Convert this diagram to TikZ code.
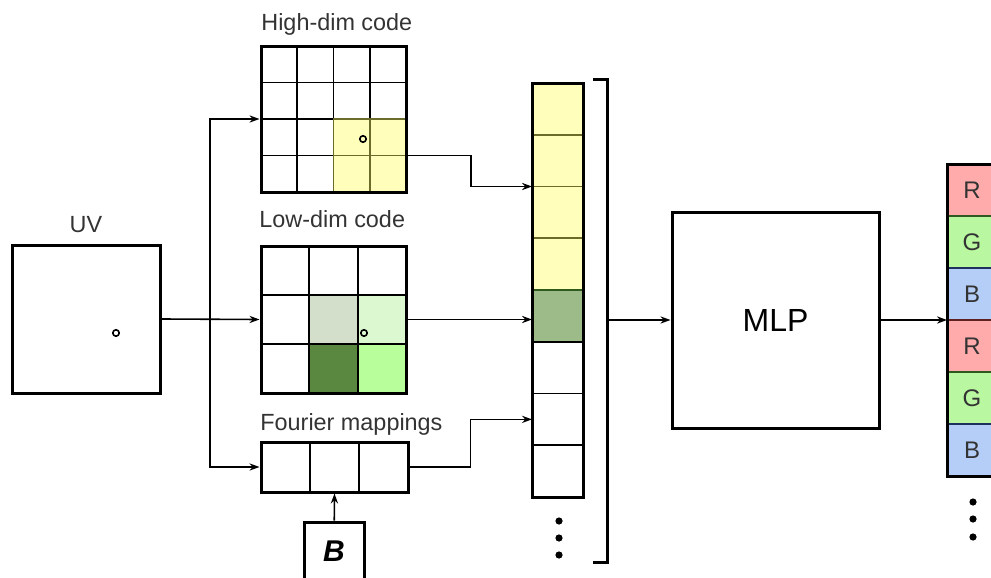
\documentclass[tikz,border=0pt]{standalone}
\usepackage{fontspec}
\setmainfont{Liberation Sans}
\usetikzlibrary{arrows.meta,positioning}

\definecolor{codeyellow}{HTML}{FFFFBB}
\definecolor{yellowedge}{HTML}{6B6B2A}
\definecolor{ldgray}{HTML}{D3DECB}
\definecolor{ldpale}{HTML}{DCF8D0}
\definecolor{lddark}{HTML}{5A8841}
\definecolor{ldlight}{HTML}{B8FF9C}
\definecolor{colgreen}{HTML}{9CBB89}
\definecolor{rfill}{HTML}{FFABAB}
\definecolor{gfill}{HTML}{B9F7A1}
\definecolor{bfill}{HTML}{B5CEF7}
\definecolor{redge}{HTML}{5E2020}
\definecolor{gedge}{HTML}{2F5A1F}
\definecolor{bedge}{HTML}{1F2F5E}

\tikzset{
  >={Stealth[length=5pt,width=3.6pt]},
  box/.style={draw, line width=1.5pt, inner sep=0pt},
  cell/.style={draw, line width=0.9pt, inner sep=0pt, outer sep=0pt},
  lbltext/.style={inner sep=0pt, text=black!80, font=\fontsize{11.7}{14}\selectfont},
  conn/.style={line width=0.8pt}
}

\begin{document}
\begin{tikzpicture}[x=0.5pt, y=-0.5pt]
  \useasboundingbox (0,0) rectangle (991,578);
  % input UV
  \node[box, minimum size=74pt] (uv) at (86,319) {};
  \node[lbltext, anchor=base] (uvlabel) at (86,232) {UV};
  \draw[line width=0.8pt] (116,333) circle[radius=1.6pt];

  % high-dim code
  \foreach \r in {1,...,4}
    \foreach \c in {1,...,4}
      \node[cell, minimum width=18.125pt, minimum height=18.25pt]
        (hd-\r-\c) at ({261+36.25*(\c-0.5)}, {46+36.5*(\r-0.5)}) {};
  \foreach \r/\c in {3/3,3/4,4/3,4/4}
    \filldraw[fill=codeyellow, draw=yellowedge, line width=0.9pt]
      (hd-\r-\c.south west) rectangle (hd-\r-\c.north east);
  \node[box, minimum width=72.5pt, minimum height=73pt] (hd) at (333.5,119) {};
  \node[lbltext, anchor=base west] (hdlabel) at (261,30) {High-dim code};
  \draw[line width=0.8pt] (363,139) circle[radius=1.6pt];

  % low-dim code
  \foreach \r in {1,...,3}
    \foreach \c in {1,...,3}
      \node[cell, minimum width=24.17pt, minimum height=24.5pt]
        (ld-\r-\c) at ({261+48.33*(\c-0.5)}, {246+49*(\r-0.5)}) {};
  \foreach \r/\c/\col in {2/2/ldgray,2/3/ldpale,3/2/lddark,3/3/ldlight}
    \filldraw[fill=\col, draw=black, line width=0.9pt]
      (ld-\r-\c.south west) rectangle (ld-\r-\c.north east);
  \node[box, minimum width=72.5pt, minimum height=73.5pt] (ld) at (333.5,319.5) {};
  \node[lbltext, anchor=base west] (ldlabel) at (259,227) {Low-dim code};
  \draw[line width=0.8pt] (364,333) circle[radius=1.6pt];

  % fourier mappings
  \foreach \c in {1,...,3}
    \node[cell, minimum width=24.5pt, minimum height=25pt]
      (fm-\c) at ({261+49*(\c-0.5)}, 467) {};
  \node[box, minimum width=73.5pt, minimum height=25pt] (fm) at (334.5,467) {};
  \node[lbltext, anchor=base west] (fmlabel) at (260,430) {Fourier mappings};
  \node[box, minimum width=30pt, minimum height=29pt,
        font=\fontsize{15}{17}\selectfont\bfseries\itshape] (bmat) at (334,551) {B};
  \draw[conn, ->] (bmat) -- (fm.south);

  % branches
  \coordinate (split) at (210,319);
  \draw[conn, ->] (uv.east) -- (ld.west);
  \draw[conn, ->] (split) |- (hd.west);
  \draw[conn, ->] (split) |- (fm.west);

  % concatenated feature
  \foreach \i/\col/\edge in {1/codeyellow/yellowedge,2/codeyellow/yellowedge,
      3/codeyellow/yellowedge,4/codeyellow/yellowedge,5/colgreen/gedge,
      6/white/black,7/white/black,8/white/black}
    \node[cell, fill=\col, draw=\edge, minimum width=25.5pt, minimum height=25.875pt]
      (col\i) at (557.5, {83+51.75*(\i-0.5)}) {};
  \node[box, minimum width=25.5pt, minimum height=207pt] (col) at (557.5,290) {};
  \foreach \y in {521,538,555}
    \fill (559,\y) circle[radius=1.8pt];
  \draw[conn, ->] (hd-3-4.south east) -- ++(65,0) |- (col2.south west);
  \draw[conn, ->] (ld.east) -- (ld.east -| col5.west);
  \draw[conn, ->] (fm.east) -- ++(61,0) |- (col7.west);

  % bracket
  \draw[line width=1.5pt] (593,79) -- (607,79) -- (607,562) -- (593,562);
  \coordinate (brk) at (607,320);

  % mlp
  \node[box, minimum width=103.5pt, minimum height=108pt,
        font=\fontsize{16}{19}\selectfont] (mlp) at (775.5,320) {MLP};
  \draw[conn, ->] (brk) -- (mlp.west);

  % rgb output
  \foreach \i/\ch/\col/\edge in {1/R/rfill/redge,2/G/gfill/gedge,3/B/bfill/bedge,
      4/R/rfill/redge,5/G/gfill/gedge,6/B/bfill/bedge}
    \node[cell, fill=\col, draw=\edge, minimum width=25pt, minimum height=26pt,
          text=black!80, font=\fontsize{12}{14}\selectfont]
      (rgb\i) at (972, {164+52*(\i-0.5)}) {\ch};
  \node[box, minimum width=25pt, minimum height=156pt] (rgb) at (972,320) {};
  \foreach \y in {502,519,537}
    \fill (973,\y) circle[radius=1.8pt];
  \draw[conn, ->] (mlp.east) -- (rgb3.south west);
\end{tikzpicture}
\end{document}
